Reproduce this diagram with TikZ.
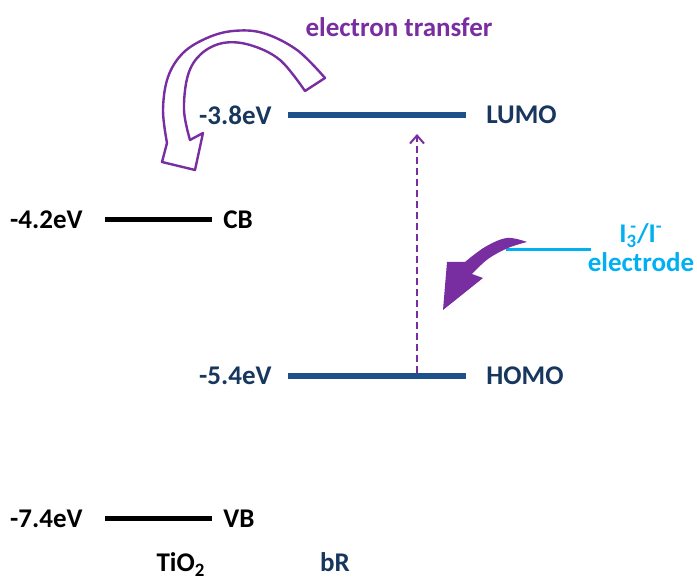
\documentclass[tikz,border=0pt]{standalone}
\usepackage{fontspec}
\setmainfont{Carlito}
\usepackage{xcolor}
\usepackage{tikz}
\usetikzlibrary{
  arrows.meta,
  positioning
}
\definecolor{navytext}{RGB}{23,55,94}
\definecolor{navyline}{RGB}{30,80,140}
\definecolor{etpurple}{RGB}{120,45,160}
\definecolor{elcyan}{RGB}{0,176,240}

\begin{document}
\begin{tikzpicture}[x=0.5pt,y=-0.5pt,>={Straight Barb[length=4pt,width=7pt]},
  lbl/.style={font=\fontsize{13.5}{15}\selectfont\bfseries, inner sep=2pt},
  bRlevel/.style={draw=navyline, line width=3pt},
  tilevel/.style={draw=black, line width=2.5pt}]
  \useasboundingbox (0,0) rectangle (697,581);

  % levels
  \coordinate (lumoL) at (288,115);
  \coordinate (lumoR) at (466,115);
  \coordinate (homoL) at (288,376);
  \coordinate (homoR) at (466,376);
  \coordinate (cbL) at (105,220);
  \coordinate (cbR) at (212,220);
  \coordinate (vbL) at (105,519);
  \coordinate (vbR) at (212,519);
  \coordinate (elecL) at (506,250);
  \coordinate (elecR) at (591,250);
  \path[bRlevel] (lumoL) -- (lumoR);
  \path[bRlevel] (homoL) -- (homoR);
  \path[tilevel] (cbL) -- (cbR);
  \path[tilevel] (vbL) -- (vbR);
  \draw[elcyan, line width=1.5pt] (elecL) -- (elecR);

  % labels
  \node[lbl, text=navytext, left=6pt of lumoL] (lumoE) {-3.8eV};
  \node[lbl, text=navytext, right=8pt of lumoR] (lumo) {LUMO};
  \node[lbl, text=navytext, left=6pt of homoL] (homoE) {-5.4eV};
  \node[lbl, text=navytext, right=8pt of homoR] (homo) {HOMO};
  \node[lbl, left=9pt of cbL] (cbE) {-4.2eV};
  \node[lbl, right=3.5pt of cbR] (cb) {CB};
  \node[lbl, left=9pt of vbL] (vbE) {-7.4eV};
  \node[lbl, right=3.5pt of vbR] (vb) {VB};
  \node[lbl, anchor=base] (tio2) at (181,572) {TiO\textsubscript{2}};
  \node[lbl, anchor=base, text=navytext] (bR) at (335,572) {bR};
  \node[lbl, anchor=base, text=etpurple] (etrans) at (399,37) {electron transfer};
  \node[lbl, text=elcyan, align=center, font=\fontsize{13.5}{14.5}\selectfont\bfseries]
    (elec) at (641,248) {I\textsubscript{3}\llap{\textsuperscript{-}}/I\textsuperscript{-}\\electrode};

  % excitation
  \coordinate (exc0) at (417,373);
  \coordinate (exc1) at (417,134);
  \draw[etpurple, line width=1pt, dash pattern=on 3.5pt off 2pt, ->] (exc0) -- (exc1);

  % transfer arrows
  \draw[etpurple, line width=1.2pt, fill=white, line join=round]
    (325,78) -- plot[smooth, tension=0.6] coordinates {(325,78) (297,50) (263,33) (233,31) (207,38) (183,53) (168,77) (163,110) (167,143)}
    -- (162,162) -- (195,170) -- (203,133) -- (190,140)
    -- plot[smooth, tension=0.6] coordinates {(190,140) (184,110) (188,75) (201,54) (223,43) (250,45) (280,60) (305,91)}
    -- cycle;
  \fill[etpurple]
    (527,242) -- plot[smooth, tension=0.6] coordinates {(527,242) (507,238) (485,247) (465,262)}
    -- (447,262) -- (443,310) -- (483,278) -- (472,274)
    -- plot[smooth, tension=0.6] coordinates {(472,274) (488,259) (508,248) (527,242)}
    -- cycle;
\end{tikzpicture}
\end{document}
